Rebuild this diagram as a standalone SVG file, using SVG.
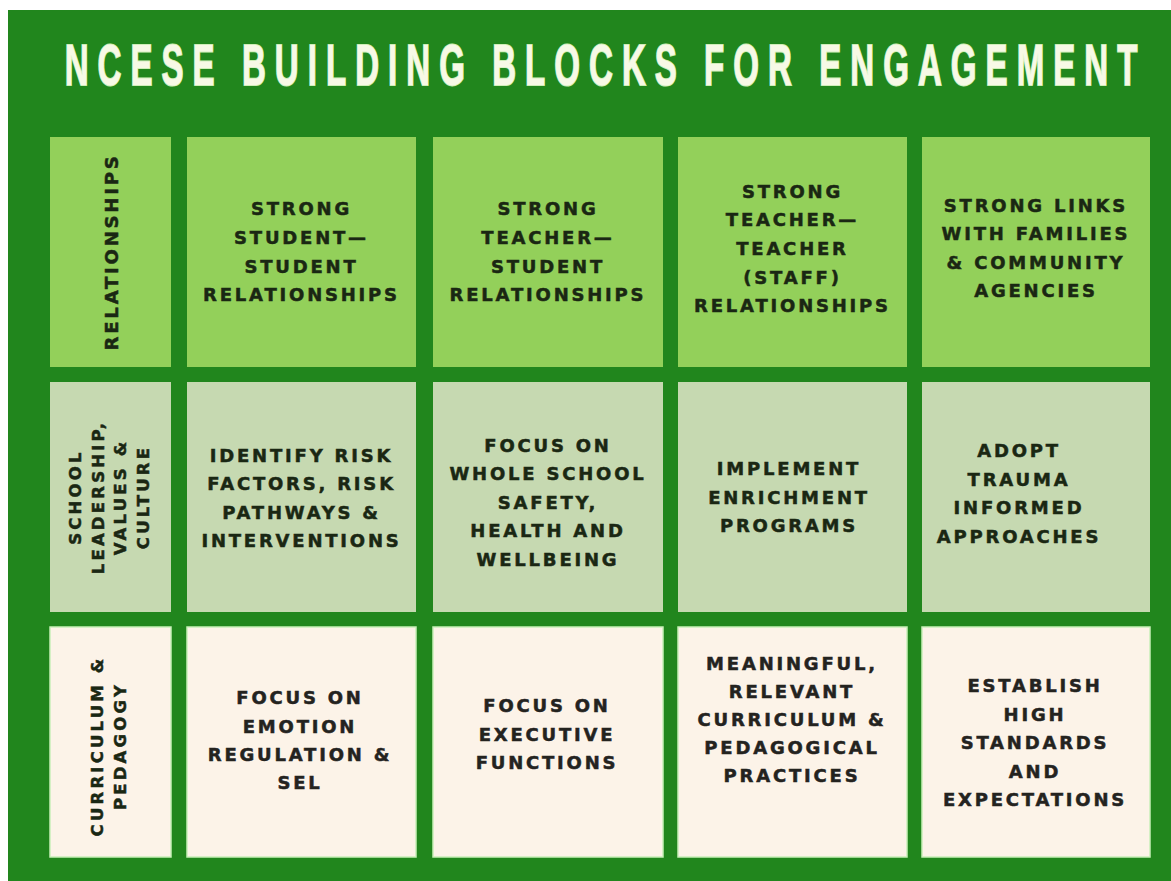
<svg xmlns="http://www.w3.org/2000/svg" width="1171" height="881" viewBox="0 0 1171 881">
<style>
.r1{fill:#93d05a}
.r2{fill:#c6d9b1}
.r3{fill:#fcf3e8;stroke:#c8efb8;stroke-width:1.5}
.t{font-family:"DejaVu Sans","Liberation Sans",sans-serif;font-weight:bold;font-size:18px;letter-spacing:2.8px;text-anchor:middle;fill:#1a2713;stroke:#1a2713;stroke-width:0.5}
.t3{fill:#24231f;stroke:#24231f}
.lab{font-family:"DejaVu Sans","Liberation Sans",sans-serif;font-weight:bold;font-size:16.5px;letter-spacing:3.2px;text-anchor:middle;fill:#1a2713;stroke:#1a2713;stroke-width:0.5}
.title{font-family:"Liberation Sans",Arial,sans-serif;font-weight:bold;font-size:58px;fill:#f7f9e6;stroke:#cfeeb8;stroke-width:2;paint-order:stroke;text-anchor:middle}
</style>
<rect x="0" y="0" width="1171" height="881" fill="#ffffff"/>
<rect x="8" y="10" width="1163" height="871" fill="#21861d"/>
<text class="title" transform="translate(601,85) scale(0.57,1)" textLength="1882" lengthAdjust="spacing">NCESE BUILDING BLOCKS FOR ENGAGEMENT</text>

<g id="label-relationships">
<rect class="r1" x="50" y="137" width="121" height="230"/>
<text class="t" transform="translate(111,252) rotate(-90)" x="0" y="6.5">RELATIONSHIPS</text>
</g>
<g id="label-leadership">
<rect class="r2" x="50" y="382" width="121" height="230"/>
<g transform="translate(111,497) rotate(-90)">
<text class="lab" x="0" y="-30">SCHOOL</text>
<text class="lab" x="0" y="-7.2">LEADERSHIP,</text>
<text class="lab" x="0" y="15">VALUES &amp;</text>
<text class="lab" x="0" y="38">CULTURE</text>
</g>
</g>
<g id="label-curriculum">
<rect class="r3" x="50" y="627" width="121" height="230"/>
<g transform="translate(111,746) rotate(-90)">
<text class="lab" x="0" y="-8">CURRICULUM &amp;</text>
<text class="lab" x="0" y="15">PEDAGOGY</text>
</g>
</g>

<g id="c-student-student">
<rect class="r1" x="187" y="137" width="229" height="230"/>
<text class="t"><tspan x="301.5" y="214.5">STRONG</tspan><tspan x="301.5" y="243.5">STUDENT—</tspan><tspan x="301.5" y="272.5">STUDENT</tspan><tspan x="301.5" y="300.5">RELATIONSHIPS</tspan></text>
</g>
<g id="c-teacher-student">
<rect class="r1" x="433" y="137" width="230" height="230"/>
<text class="t"><tspan x="548" y="214.5">STRONG</tspan><tspan x="548" y="243.5">TEACHER—</tspan><tspan x="548" y="272.5">STUDENT</tspan><tspan x="548" y="300.5">RELATIONSHIPS</tspan></text>
</g>
<g id="c-teacher-teacher">
<rect class="r1" x="678" y="137" width="229" height="230"/>
<text class="t"><tspan x="792.5" y="197.5">STRONG</tspan><tspan x="792.5" y="226">TEACHER—</tspan><tspan x="792.5" y="254.5">TEACHER</tspan><tspan x="792.5" y="283.5">(STAFF)</tspan><tspan x="792.5" y="311.5">RELATIONSHIPS</tspan></text>
</g>
<g id="c-families">
<rect class="r1" x="922" y="137" width="228" height="230"/>
<text class="t"><tspan x="1036" y="211.5">STRONG LINKS</tspan><tspan x="1036" y="240">WITH FAMILIES</tspan><tspan x="1036" y="268.5">&amp; COMMUNITY</tspan><tspan x="1036" y="297">AGENCIES</tspan></text>
</g>

<g id="c-risk">
<rect class="r2" x="187" y="382" width="229" height="230"/>
<text class="t"><tspan x="301.5" y="461.5">IDENTIFY RISK</tspan><tspan x="301.5" y="490">FACTORS, RISK</tspan><tspan x="301.5" y="518.5">PATHWAYS &amp;</tspan><tspan x="301.5" y="547">INTERVENTIONS</tspan></text>
</g>
<g id="c-safety">
<rect class="r2" x="433" y="382" width="230" height="230"/>
<text class="t"><tspan x="548" y="451.5">FOCUS ON</tspan><tspan x="548" y="480">WHOLE SCHOOL</tspan><tspan x="548" y="508.5">SAFETY,</tspan><tspan x="548" y="537">HEALTH AND</tspan><tspan x="548" y="565.5">WELLBEING</tspan></text>
</g>
<g id="c-enrichment">
<rect class="r2" x="678" y="382" width="229" height="230"/>
<text class="t"><tspan x="789" y="475">IMPLEMENT</tspan><tspan x="789" y="503.5">ENRICHMENT</tspan><tspan x="789" y="532">PROGRAMS</tspan></text>
</g>
<g id="c-trauma">
<rect class="r2" x="922" y="382" width="228" height="230"/>
<text class="t"><tspan x="1019" y="457">ADOPT</tspan><tspan x="1019" y="485.5">TRAUMA</tspan><tspan x="1019" y="514">INFORMED</tspan><tspan x="1019" y="542.5">APPROACHES</tspan></text>
</g>

<g id="c-emotion">
<rect class="r3" x="187" y="627" width="229" height="230"/>
<text class="t t3"><tspan x="300" y="704">FOCUS ON</tspan><tspan x="300" y="732.5">EMOTION</tspan><tspan x="300" y="760.5">REGULATION &amp;</tspan><tspan x="300" y="789">SEL</tspan></text>
</g>
<g id="c-executive">
<rect class="r3" x="433" y="627" width="230" height="230"/>
<text class="t t3"><tspan x="547" y="712">FOCUS ON</tspan><tspan x="547" y="740.5">EXECUTIVE</tspan><tspan x="547" y="769">FUNCTIONS</tspan></text>
</g>
<g id="c-curriculum">
<rect class="r3" x="678" y="627" width="229" height="230"/>
<text class="t t3"><tspan x="792" y="669.5">MEANINGFUL,</tspan><tspan x="792" y="697.5">RELEVANT</tspan><tspan x="792" y="725.5">CURRICULUM &amp;</tspan><tspan x="792" y="753.5">PEDAGOGICAL</tspan><tspan x="792" y="781.5">PRACTICES</tspan></text>
</g>
<g id="c-standards">
<rect class="r3" x="922" y="627" width="228" height="230"/>
<text class="t t3"><tspan x="1035" y="692">ESTABLISH</tspan><tspan x="1035" y="720.5">HIGH</tspan><tspan x="1035" y="749">STANDARDS</tspan><tspan x="1035" y="777.5">AND</tspan><tspan x="1035" y="805.5">EXPECTATIONS</tspan></text>
</g>
<g id="connectors"></g>
</svg>
